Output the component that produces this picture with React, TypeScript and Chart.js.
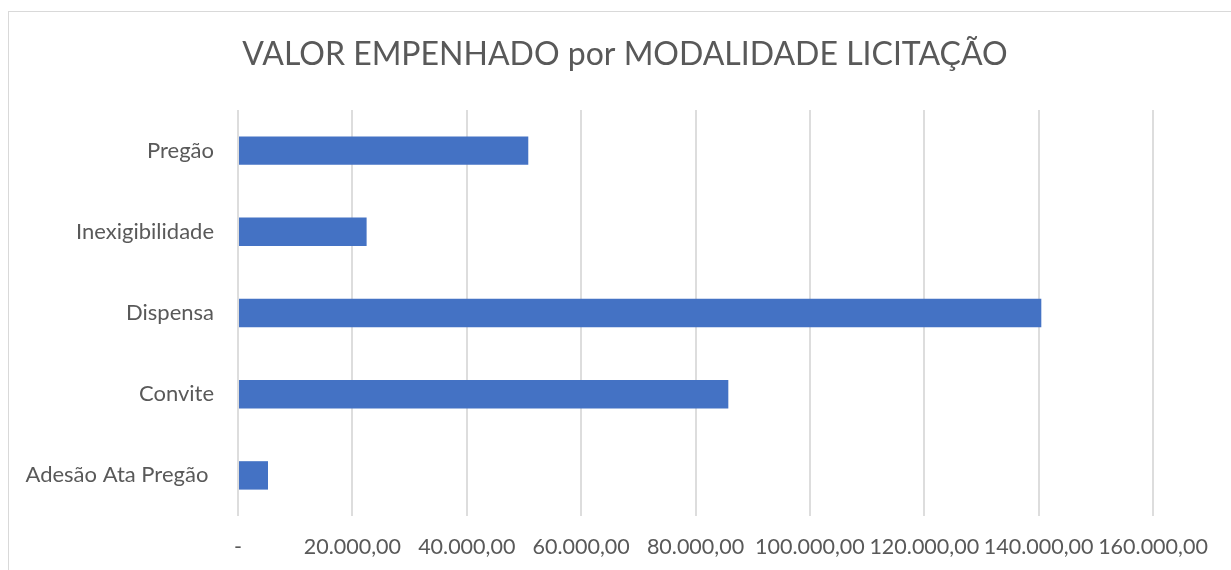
import React, { useEffect, useRef } from "react";
import { Chart, registerables } from "chart.js";

Chart.register(...registerables);

const titleText = "VALOR EMPENHADO por MODALIDADE LICITAÇÃO";
const categories = ["Pregão", "Inexigibilidade", "Dispensa", "Convite", "Adesão Ata Pregão "];
const values = [50760, 22490, 140470, 85740, 5250];
const xMin = 0;
const xMax = 160000;
const xStep = 20000;

const FONT = "Lato, 'Open Sans', sans-serif";
const TEXT = "#595959";
const GRID = "#dddddd";
const BAR = "#4472C4";

function fmt(v: number): string {
  if (v === 0) return "-";
  const intPart = Math.round(v).toString().replace(/\B(?=(\d{3})+(?!\d))/g, ".");
  return intPart + ",00";
}

const titlePlugin = {
  id: "customTitle",
  afterDraw(chart: any) {
    const ctx = chart.ctx;
    ctx.save();
    ctx.fillStyle = TEXT;
    ctx.font = `normal 32px ${FONT}`;
    ctx.textAlign = "center";
    ctx.textBaseline = "middle";
    ctx.fillText(titleText, 625, 55);
    ctx.restore();
  },
};

export default function App() {
  const ref = useRef<HTMLCanvasElement | null>(null);
  useEffect(() => {
    document.body.style.margin = "0";
    document.body.style.overflow = "hidden";
    if (!ref.current) return;
    const chart = new Chart(ref.current, {
      type: "bar",
      data: {
        labels: categories,
        datasets: [
          {
            data: values,
            backgroundColor: BAR,
            borderWidth: 0,
            barPercentage: 0.35,
            categoryPercentage: 1,
          },
        ],
      },
      plugins: [titlePlugin],
      options: {
        indexAxis: "y",
        responsive: false,
        animation: false,
        layout: { padding: { left: 0, right: 78, top: 110, bottom: 0 } },
        plugins: {
          legend: { display: false },
          tooltip: { enabled: false },
          title: { display: false },
        },
        scales: {
          x: {
            min: xMin,
            max: xMax,
            grid: { color: GRID, lineWidth: 2, drawTicks: false },
            border: { display: false },
            ticks: {
              stepSize: xStep,
              autoSkip: false,
              maxRotation: 0,
              color: TEXT,
              padding: 18,
              font: { family: FONT, size: 21.5 },
              callback: (v: any) => fmt(Number(v)),
            },
            afterFit: (s: any) => {
              s.height = 54;
            },
          },
          y: {
            grid: { display: false, drawTicks: false },
            border: { display: false },
            ticks: {
              color: TEXT,
              padding: 24,
              font: { family: FONT, size: 22 },
            },
            afterFit: (s: any) => {
              s.width = 238;
            },
          },
        },
      },
    });
    return () => chart.destroy();
  }, []);
  return (
    <div style={{ position: "relative", width: 1231, height: 570, overflow: "hidden", background: "#fff" }}>
      <div
        style={{
          position: "absolute",
          left: 8,
          top: 11,
          width: 1400,
          height: 700,
          border: "1px solid #d9d9d9",
        }}
      />
      <canvas ref={ref} width={1231} height={570} style={{ position: "absolute", left: 0, top: 0 }} />
    </div>
  );
}
